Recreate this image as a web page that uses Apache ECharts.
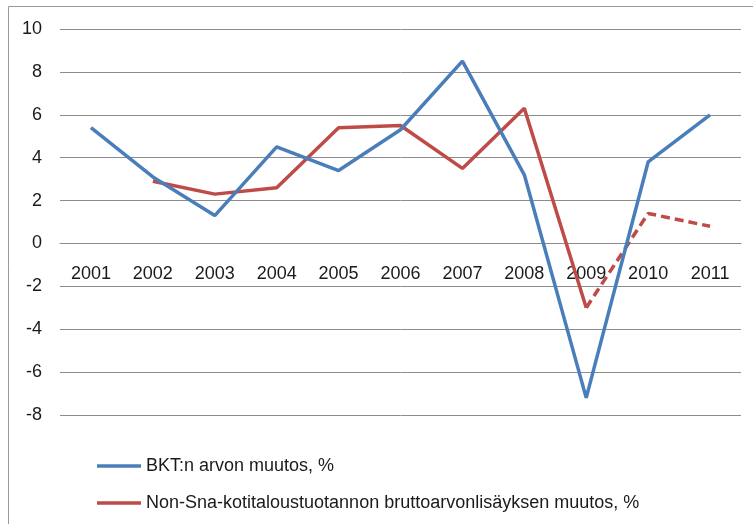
<!DOCTYPE html>
<html>
<head>
<meta charset="utf-8">
<script src="https://cdn.jsdelivr.net/npm/echarts@6/dist/echarts.min.js"></script>
<style>
  html, body { margin: 0; padding: 0; background: #fff; }
  #chart { width: 753px; height: 524px; }
</style>
</head>
<body>
<div id="chart"></div>
<script>
// data
const years = ['2001', '2002', '2003', '2004', '2005', '2006', '2007', '2008', '2009', '2010', '2011']
const bktName = 'BKT:n arvon muutos, %'
const bkt = [5.4, 3.1, 1.3, 4.5, 3.4, 5.3, 8.5, 3.2, -7.2, 3.8, 6.0]
const nonSnaName = 'Non-Sna-kotitaloustuotannon bruttoarvonlisäyksen muutos, %'
// solid part 2002..2009, dashed estimate 2009..2011
const nonSna = [null, 2.9, 2.3, 2.6, 5.4, 5.5, 3.5, 6.3, -3.0, null, null]
const nonSnaEst = [null, null, null, null, null, null, null, null, -3.0, 1.4, 0.8]
const yTicks = { min: -8, max: 10, step: 2 }

const blue = '#4a7ebb'
const red = '#be4b48'
const gridCol = '#8c8c8c'
const font = 'Liberation Sans'
const textCol = '#1a1a1a'

const gridTop = 29, gridBottom = 109
const plotH = 524 - gridTop - gridBottom
// the category axis sits on the zero line: shift it up from the plot bottom
const zeroShift = plotH * (0 - yTicks.min) / (yTicks.max - yTicks.min)

const chart = echarts.init(document.getElementById('chart'))
chart.setOption({
  animation: false,
  textStyle: { fontFamily: font },
  // outer chart frame (right/bottom edges are cropped off in the original)
  graphic: [{
    type: 'rect',
    shape: { x: 8.5, y: 6.5, width: 800, height: 600 },
    style: { fill: 'none', stroke: '#9a9a9a', lineWidth: 1 },
    silent: true
  }],
  grid: { left: 60, right: 12, top: gridTop, bottom: gridBottom },
  legend: {
    orient: 'vertical',
    left: 92,
    top: 452,
    icon: 'rect',
    itemWidth: 44,
    itemHeight: 3.5,
    itemGap: 19,
    textStyle: { fontFamily: font, fontSize: 18, color: textCol },
    data: [bktName, nonSnaName]
  },
  xAxis: {
    type: 'category',
    data: years,
    boundaryGap: true,
    offset: -zeroShift,
    axisLine: { onZero: false, lineStyle: { color: gridCol, width: 1 } },
    axisTick: { show: false },
    axisLabel: { color: textCol, fontSize: 18, margin: 22, fontFamily: font }
  },
  yAxis: {
    type: 'value',
    min: yTicks.min,
    max: yTicks.max,
    interval: yTicks.step,
    axisLine: { show: false },
    axisTick: { show: false },
    splitLine: { lineStyle: { color: gridCol, width: 1 } },
    axisLabel: { color: textCol, fontSize: 18, margin: 18, fontFamily: font }
  },
  series: [
    {
      name: bktName,
      type: 'line',
      data: bkt,
      showSymbol: false,
      symbol: 'none',
      lineStyle: { color: blue, width: 3.5 },
      itemStyle: { color: blue },
      z: 3
    },
    {
      name: nonSnaName,
      type: 'line',
      data: nonSna,
      showSymbol: false,
      symbol: 'none',
      lineStyle: { color: red, width: 3.5 },
      itemStyle: { color: red },
      z: 2
    },
    {
      name: 'est',
      type: 'line',
      data: nonSnaEst,
      showSymbol: false,
      symbol: 'none',
      lineStyle: { color: red, width: 3.5, type: [9, 5] },
      itemStyle: { color: red },
      z: 2
    }
  ]
})
</script>
</body>
</html>
